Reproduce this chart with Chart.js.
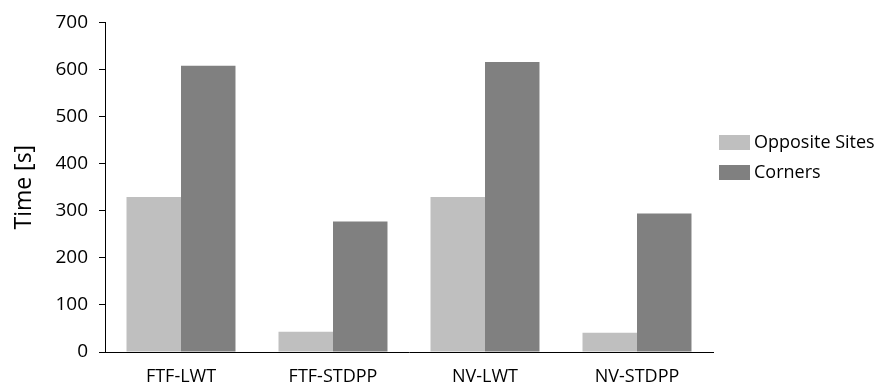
<!DOCTYPE html>
<html>
<head>
<meta charset="utf-8">
<script src="https://cdn.jsdelivr.net/npm/chart.js@4"></script>
<style>
  html, body { margin: 0; padding: 0; background: #fff; }
  #wrap { width: 878px; height: 386px; }
</style>
</head>
<body>
<div id="wrap"><canvas id="myChart" width="878" height="386"></canvas></div>
<script>
// data
var categories = ["FTF-LWT", "FTF-STDPP", "NV-LWT", "NV-STDPP"];
var seriesNames = ["Opposite Sites", "Corners"];
var oppositeSites = [329, 43, 329, 41];
var corners = [608, 277, 616, 294];
var yTicks = [0, 100, 200, 300, 400, 500, 600, 700];

var FONT = "'Open Sans', 'DejaVu Sans', sans-serif";

/* legend on the right, drawn from the datasets */
var sideLegend = {
  id: 'sideLegend',
  afterDraw: function(chart) {
    var ctx = chart.ctx;
    ctx.save();
    ctx.font = "18px " + FONT;
    ctx.textBaseline = "middle";
    ctx.textAlign = "left";
    chart.data.datasets.forEach(function(ds, i) {
      var y = 135 + i * 30;
      ctx.fillStyle = ds.backgroundColor;
      ctx.fillRect(719, y, 31, 15);
      ctx.fillStyle = "#000";
      ctx.fillText(ds.label, 754, y + 8);
    });
    ctx.restore();
  }
};

var data = {
  labels: categories,
  datasets: [
    { label: seriesNames[0], data: oppositeSites, backgroundColor: "#BFBFBF" },
    { label: seriesNames[1], data: corners, backgroundColor: "#808080" }
  ]
};

var ctx = document.getElementById('myChart');
var barchart = new Chart(ctx, {
  type: "bar",
  data: data,
  plugins: [sideLegend],
  options: {
    responsive: false,
    animation: false,
    devicePixelRatio: 1,
    layout: { padding: { top: 19, right: 165, left: 0, bottom: 0 } },
    datasets: {
      bar: { categoryPercentage: 0.717, barPercentage: 1.0, borderWidth: 0 }
    },
    plugins: {
      legend: { display: false },
      tooltip: { enabled: false }
    },
    scales: {
      x: {
        afterFit: function(axis) { axis.height = 34; },
        grid: { display: false },
        border: { display: true, color: "#000", width: 1 },
        ticks: { color: "#000", font: { family: FONT, size: 18 }, padding: 6, maxRotation: 0 }
      },
      y: {
        min: 0,
        max: 700,
        afterFit: function(axis) { axis.width = 105; },
        afterBuildTicks: function(axis) {
          axis.ticks = yTicks.map(function(v) { return { value: v }; });
        },
        grid: { drawOnChartArea: false, drawTicks: true, tickLength: 6, color: "#000" },
        border: { display: true, color: "#000", width: 1 },
        ticks: { color: "#000", font: { family: FONT, size: 19 }, padding: 11 },
        title: {
          display: true,
          text: "Time [s]",
          color: "#000",
          font: { family: FONT, size: 23 },
          padding: { top: 11, bottom: 0 }
        }
      }
    }
  }
});
</script>
</body>
</html>
